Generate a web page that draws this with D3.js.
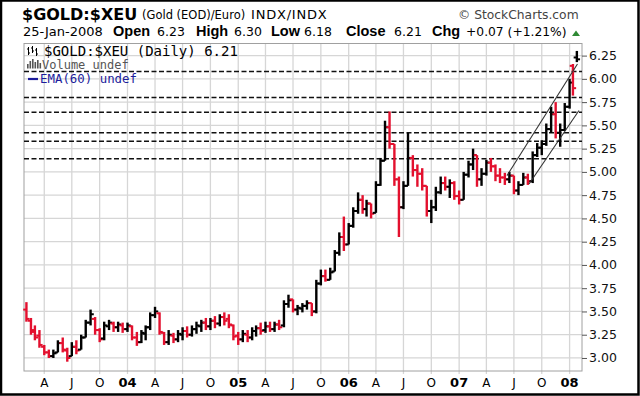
<!DOCTYPE html>
<html>
<head>
<meta charset="utf-8">
<script src="https://cdn.jsdelivr.net/npm/d3@7/dist/d3.min.js"></script>
<style>
  body { margin: 0; background: #fff; }
  svg { display: block; }
</style>
</head>
<body>
<div id="chart"></div>
<script>
// semi-monthly OHLC
const dates = [
  "2003-02-01","2003-02-16","2003-03-01","2003-03-16","2003-04-01","2003-04-16","2003-05-01","2003-05-16",
  "2003-06-01","2003-06-16","2003-07-01","2003-07-16","2003-08-01","2003-08-16","2003-09-01","2003-09-16",
  "2003-10-01","2003-10-16","2003-11-01","2003-11-16","2003-12-01","2003-12-16",
  "2004-01-01","2004-01-16","2004-02-01","2004-02-16","2004-03-01","2004-03-16","2004-04-01","2004-04-16",
  "2004-05-01","2004-05-16","2004-06-01","2004-06-16","2004-07-01","2004-07-16","2004-08-01","2004-08-16",
  "2004-09-01","2004-09-16","2004-10-01","2004-10-16","2004-11-01","2004-11-16","2004-12-01","2004-12-16",
  "2005-01-01","2005-01-16","2005-02-01","2005-02-16","2005-03-01","2005-03-16","2005-04-01","2005-04-16",
  "2005-05-01","2005-05-16","2005-06-01","2005-06-16","2005-07-01","2005-07-16","2005-08-01","2005-08-16",
  "2005-09-01","2005-09-16","2005-10-01","2005-10-16","2005-11-01","2005-11-16","2005-12-01","2005-12-16",
  "2006-01-01","2006-01-16","2006-02-01","2006-02-16","2006-03-01","2006-03-16","2006-04-01","2006-04-16",
  "2006-05-01","2006-05-16","2006-06-01","2006-06-16","2006-07-01","2006-07-16","2006-08-01","2006-08-16",
  "2006-09-01","2006-09-16","2006-10-01","2006-10-16","2006-11-01","2006-11-16","2006-12-01","2006-12-16",
  "2007-01-01","2007-01-16","2007-02-01","2007-02-16","2007-03-01","2007-03-16","2007-04-01","2007-04-16",
  "2007-05-01","2007-05-16","2007-06-01","2007-06-16","2007-07-01","2007-07-16","2007-08-01","2007-08-16",
  "2007-09-01","2007-09-16","2007-10-01","2007-10-16","2007-11-01","2007-11-16","2007-12-01","2007-12-16",
  "2008-01-01","2008-01-12","2008-01-25"
];
const opens = [
  3.52,3.40,3.30,3.24,3.12,3.06,3.02,3.06, 3.16,3.08,3.02,3.12,3.09,3.22,3.38,3.42, 3.30,3.21,3.34,3.37,3.33,3.35,
  3.31,3.34,3.22,3.17,3.26,3.33,3.46,3.48, 3.27,3.17,3.24,3.20,3.25,3.29,3.25,3.31, 3.34,3.38,3.34,3.40,3.37,3.44,3.42,3.35,
  3.24,3.20,3.25,3.22,3.29,3.32,3.30,3.34, 3.31,3.36,3.35,3.58,3.63,3.52,3.53,3.56, 3.59,3.50,3.80,3.88,3.84,3.93,4.13,4.30,
  4.22,4.42,4.58,4.70,4.60,4.66,4.56,4.86, 5.12,5.48,5.30,4.92,4.62,4.85,5.15,5.02, 4.98,4.85,4.58,4.62,4.78,4.88,4.84,4.88,
  4.74,4.70,4.97,5.08,5.18,4.92,4.98,5.10, 5.06,4.96,4.94,4.92,4.96,4.80,4.86,4.94, 4.90,5.18,5.26,5.30,5.46,5.62,5.42,5.45,
  5.70,6.14,6.23
];
const highs = [
  3.60,3.43,3.35,3.30,3.14,3.09,3.09,3.19, 3.22,3.11,3.17,3.19,3.25,3.41,3.52,3.44, 3.32,3.39,3.41,3.39,3.39,3.38,
  3.38,3.35,3.28,3.30,3.35,3.49,3.55,3.49, 3.28,3.30,3.27,3.30,3.33,3.34,3.35,3.39, 3.41,3.43,3.43,3.45,3.47,3.49,3.47,3.36,
  3.28,3.30,3.30,3.33,3.35,3.38,3.39,3.39, 3.39,3.41,3.62,3.68,3.63,3.57,3.59,3.62, 3.59,3.84,3.95,3.95,3.97,4.16,4.35,4.52,
  4.45,4.62,4.78,4.75,4.70,4.66,4.90,5.15, 5.55,5.65,5.30,4.95,4.90,5.42,5.18,5.08, 5.04,4.85,4.70,4.84,4.95,4.95,4.92,4.90,
  4.80,5.00,5.12,5.25,5.18,5.04,5.13,5.15, 5.08,5.04,4.99,5.00,4.96,4.90,4.99,4.98, 5.22,5.31,5.34,5.52,5.70,5.75,5.52,5.74,
  6.00,6.16,6.30
];
const lows = [
  3.39,3.25,3.19,3.11,3.03,3.00,3.00,3.06, 3.06,2.96,3.02,3.04,3.09,3.22,3.35,3.25, 3.17,3.19,3.30,3.28,3.28,3.27,
  3.28,3.19,3.13,3.16,3.19,3.30,3.43,3.25, 3.14,3.14,3.16,3.17,3.19,3.22,3.23,3.26, 3.28,3.30,3.30,3.32,3.34,3.35,3.32,3.19,
  3.14,3.17,3.17,3.19,3.23,3.25,3.27,3.28, 3.28,3.30,3.33,3.54,3.49,3.46,3.49,3.52, 3.45,3.48,3.78,3.82,3.84,3.93,4.10,4.15,
  4.22,4.40,4.55,4.55,4.52,4.50,4.56,4.85, 5.12,5.25,4.85,4.30,4.60,4.85,4.95,4.84, 4.80,4.52,4.45,4.58,4.76,4.80,4.72,4.70,
  4.65,4.70,4.94,5.02,4.84,4.85,4.96,5.00, 4.90,4.88,4.86,4.88,4.76,4.75,4.86,4.86, 4.88,5.16,5.18,5.28,5.42,5.36,5.27,5.44,
  5.68,5.82,6.18
];
const closes = [
  3.42,3.28,3.22,3.14,3.06,3.02,3.05,3.16, 3.09,3.00,3.12,3.08,3.22,3.38,3.47,3.30, 3.20,3.35,3.38,3.33,3.36,3.31,
  3.35,3.22,3.17,3.27,3.33,3.46,3.50,3.28, 3.17,3.25,3.20,3.26,3.29,3.25,3.31,3.35, 3.38,3.34,3.40,3.37,3.44,3.40,3.36,3.23,
  3.20,3.26,3.22,3.29,3.32,3.29,3.34,3.31, 3.36,3.33,3.58,3.62,3.52,3.54,3.56,3.59, 3.50,3.80,3.88,3.84,3.92,4.13,4.30,4.22,
  4.42,4.58,4.70,4.60,4.66,4.55,4.86,5.12, 5.48,5.30,4.92,4.62,4.85,5.15,5.02,4.98, 4.85,4.58,4.62,4.78,4.88,4.84,4.88,4.74,
  4.70,4.97,5.08,5.18,4.92,4.98,5.10,5.06, 4.96,4.94,4.92,4.96,4.80,4.86,4.94,4.90, 5.18,5.26,5.30,5.46,5.62,5.42,5.45,5.70,
  5.96,5.90,6.21
];

// annotation levels and trend channel
const resistance = [6.08, 5.80, 5.64, 5.42, 5.33, 5.14];
const channelUpper = [["2007-06-08", 4.96], ["2008-01-27", 6.16]];
const channelLower = [["2007-08-20", 4.87], ["2008-02-01", 5.66]];

const yTicks = [3.00, 3.25, 3.50, 3.75, 4.00, 4.25, 4.50, 4.75, 5.00, 5.25, 5.50, 5.75, 6.00, 6.25];
const xTickDates = [
  "2003-04-01","2003-07-01","2003-10-01","2004-01-01","2004-04-01","2004-07-01","2004-10-01",
  "2005-01-01","2005-04-01","2005-07-01","2005-10-01","2006-01-01","2006-04-01","2006-07-01","2006-10-01",
  "2007-01-01","2007-04-01","2007-07-01","2007-10-01","2008-01-01"
];
const xTickLabels = ["A","J","O","04","A","J","O","05","A","J","O","06","A","J","O","07","A","J","O","08"];

const width = 640, height = 396;
const plot = { left: 24, right: 582, top: 43.5, bottom: 371 };
const parse = d3.utcParse("%Y-%m-%d");
const font = "'DejaVu Sans', Verdana, sans-serif";
const arial = "'Liberation Sans', Arial, sans-serif";
const mono = "'DejaVu Sans Mono', monospace";

const svg = d3.select("#chart")
  .append("svg")
  .attr("width", width)
  .attr("height", height);

const x = d3.scaleUtc()
  .domain([parse("2003-01-24"), parse("2008-02-11")])
  .range([plot.left, plot.right]);

const y = d3.scaleLinear()
  .domain([2.86, 6.38])
  .range([plot.bottom, plot.top]);

// ---- GRID ----
svg.append("g")
  .selectAll("line")
  .data(yTicks)
  .enter()
  .append("line")
  .attr("x1", plot.left).attr("x2", plot.right)
  .attr("y1", d => y(d)).attr("y2", d => y(d))
  .attr("stroke", "#d6d6d6")
  .attr("stroke-width", 1.3);

svg.append("g")
  .selectAll("line")
  .data(xTickDates)
  .enter()
  .append("line")
  .attr("x1", d => x(parse(d))).attr("x2", d => x(parse(d)))
  .attr("y1", plot.top).attr("y2", plot.bottom + 3)
  .attr("stroke", "#d6d6d6")
  .attr("stroke-width", 1.3);

svg.append("rect")
  .attr("x", plot.left).attr("y", plot.top)
  .attr("width", plot.right - plot.left)
  .attr("height", plot.bottom - plot.top)
  .attr("fill", "none")
  .attr("stroke", "#a0a0a0");

// ---- RESISTANCE LINES ----
svg.append("g")
  .selectAll("line")
  .data(resistance)
  .enter()
  .append("line")
  .attr("x1", plot.left).attr("x2", plot.right)
  .attr("y1", d => y(d)).attr("y2", d => y(d))
  .attr("stroke", "#111")
  .attr("stroke-width", 1.5)
  .attr("stroke-dasharray", "5,2.5");

// ---- PRICE BARS ----
const bars = dates.map((d, i) => ({
  date: parse(d), o: opens[i], h: highs[i], l: lows[i], c: closes[i],
  up: i === 0 ? closes[i] >= opens[i] : closes[i] >= closes[i - 1]
}));

const barG = svg.append("g");
bars.forEach(b => {
  const cx = x(b.date);
  const col = b.up ? "#000" : "#e3102e";
  barG.append("line")
    .attr("x1", cx).attr("x2", cx)
    .attr("y1", y(b.h)).attr("y2", y(b.l))
    .attr("stroke", col).attr("stroke-width", 2.4);
  barG.append("line")
    .attr("x1", cx - 3.2).attr("x2", cx)
    .attr("y1", y(b.o)).attr("y2", y(b.o))
    .attr("stroke", col).attr("stroke-width", 2);
  barG.append("line")
    .attr("x1", cx).attr("x2", cx + 3.2)
    .attr("y1", y(b.c)).attr("y2", y(b.c))
    .attr("stroke", col).attr("stroke-width", 2);
});

// ---- TREND CHANNEL ----
[channelUpper, channelLower].forEach(seg => {
  svg.append("line")
    .attr("x1", x(parse(seg[0][0]))).attr("y1", y(seg[0][1]))
    .attr("x2", x(parse(seg[1][0]))).attr("y2", y(seg[1][1]))
    .attr("stroke", "#333")
    .attr("stroke-width", 1.1);
});

// ---- RIGHT AXIS ----
const yAxis = svg.append("g")
  .attr("transform", `translate(${plot.right},0)`)
  .call(d3.axisRight(y).tickValues(yTicks).tickSize(5).tickPadding(2).tickFormat(d3.format(".2f")));
yAxis.select(".domain").remove();
yAxis.selectAll("line").attr("stroke", "#555");
yAxis.selectAll("text")
  .style("font-family", font)
  .style("font-size", "12.5px")
  .attr("fill", "#111");

// ---- BOTTOM LABELS ----
svg.append("g")
  .selectAll("text")
  .data(xTickDates)
  .enter()
  .append("text")
  .attr("x", d => x(parse(d)))
  .attr("y", 387)
  .attr("text-anchor", "middle")
  .style("font-family", font)
  .style("font-size", (d, i) => /\d/.test(xTickLabels[i]) ? "13px" : "12px")
  .style("font-weight", (d, i) => /\d/.test(xTickLabels[i]) ? "bold" : "normal")
  .text((d, i) => xTickLabels[i]);

// ---- HEADER ----
const hdr = (tx, px, py, size, weight, color, family) => svg.append("text")
  .attr("x", px).attr("y", py)
  .style("font-family", family || font)
  .style("font-size", size + "px")
  .style("font-weight", weight || "normal")
  .attr("fill", color || "#000")
  .text(tx);

hdr("$GOLD:$XEU", 22, 20, 16, "bold");
hdr("(Gold (EOD)/Euro)", 142, 19, 11.5);
hdr("INDX/INDX", 251, 19, 13).style("letter-spacing", "0.8px");
hdr("\u00a9 StockCharts.com", 458, 19, 12.3, "normal", "#444");

hdr("25-Jan-2008", 23, 36, 13);
hdr("Open", 113, 36, 14.5, "bold", "#000", arial);
hdr("6.23", 157, 36, 12.5);
hdr("High", 196, 36, 14.5, "bold", "#000", arial);
hdr("6.30", 234, 36, 12.5);
hdr("Low", 271, 36, 14.5, "bold", "#000", arial);
hdr("6.18", 304, 36, 12.5);
hdr("Close", 346, 36, 14.5, "bold", "#000", arial);
hdr("6.21", 394, 36, 12.5);
hdr("Chg", 432, 36, 14.5, "bold", "#000", arial);
hdr("+0.07 (+1.21%)", 466, 36, 12.3);

svg.append("path")
  .attr("d", "M572,36 L580,36 L576,30.5 Z")
  .attr("fill", "#2f8a34");

// ---- LEGEND ----
const icon = svg.append("g").attr("stroke", "#000").attr("stroke-width", 1);
[[28.5, 47, 55], [32.5, 46, 53], [36.5, 48, 56]].forEach(v => {
  icon.append("line").attr("x1", v[0]).attr("x2", v[0]).attr("y1", v[1]).attr("y2", v[2]);
  icon.append("line").attr("x1", v[0] - 1.5).attr("x2", v[0]).attr("y1", v[1] + 2).attr("y2", v[1] + 2);
  icon.append("line").attr("x1", v[0]).attr("x2", v[0] + 1.5).attr("y1", v[2] - 2).attr("y2", v[2] - 2);
});
svg.append("text")
  .attr("x", 44).attr("y", 56)
  .style("font-family", mono).style("font-size", "14px")
  .text("$GOLD:$XEU (Daily) 6.21");

const vol = svg.append("g").attr("fill", "#555");
[[27, 64, 5], [29.5, 61, 8], [32, 59, 10], [34.5, 62, 7], [37, 60, 9], [39.5, 63, 6]].forEach(v => {
  vol.append("rect").attr("x", v[0]).attr("y", v[1]).attr("width", 1.6).attr("height", v[2] - 0.5);
});
svg.append("text")
  .attr("x", 42).attr("y", 69)
  .style("font-family", mono).style("font-size", "12px")
  .attr("fill", "#555")
  .text("Volume undef");

svg.append("line")
  .attr("x1", 28).attr("x2", 38).attr("y1", 79).attr("y2", 79)
  .attr("stroke", "#1c1c9c").attr("stroke-width", 2.2);
svg.append("text")
  .attr("x", 40).attr("y", 83)
  .style("font-family", mono).style("font-size", "12.4px")
  .attr("fill", "#1c1c9c")
  .text("EMA(60) undef");

// ---- FRAME ----
svg.append("rect")
  .attr("x", 1).attr("y", 0.5)
  .attr("width", width - 2.5).attr("height", height - 2)
  .attr("fill", "none")
  .attr("stroke", "#000")
  .attr("stroke-width", 2.5);
</script>
</body>
</html>
